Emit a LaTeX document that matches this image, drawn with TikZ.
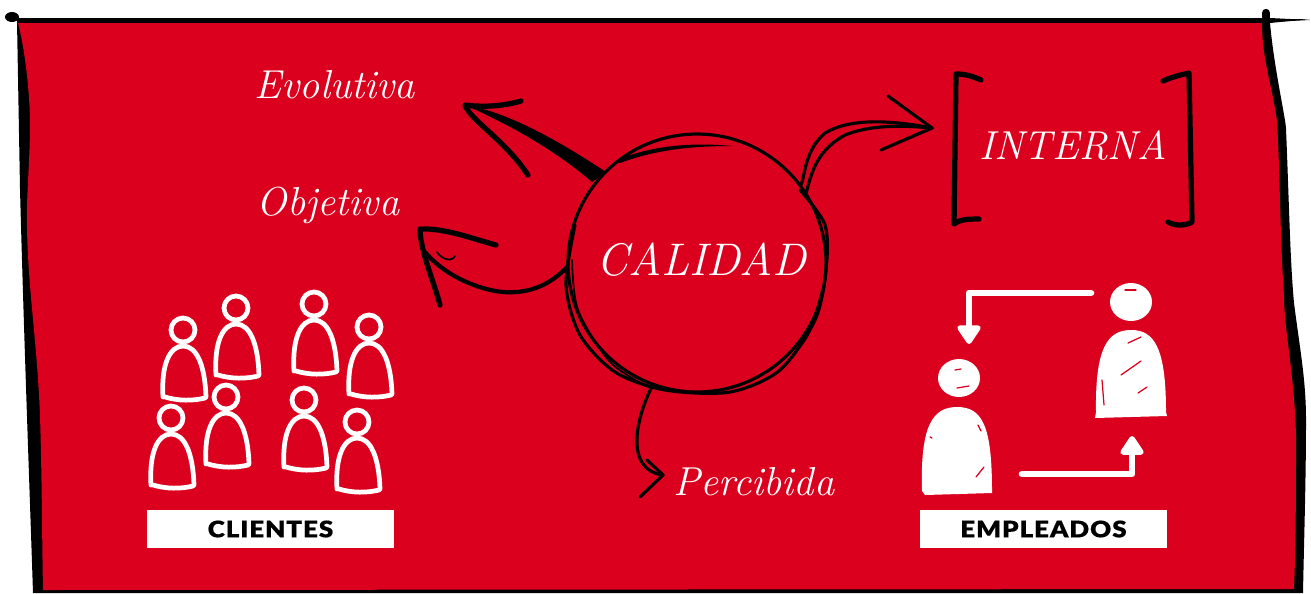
\documentclass[tikz,border=0pt]{standalone}
\usepackage{fontspec}
\usetikzlibrary{arrows.meta,positioning,calc}
\newfontfamily\boxfont{Lato Black}
\definecolor{qred}{RGB}{218,0,30}

\begin{document}
\begin{tikzpicture}[x=0.02cm,y=-0.02cm,
  handtext/.style={text=white,inner sep=0pt,font=\itshape\addfontfeature{LetterSpace=6,FakeBold=0.7}\fontsize{23}{23}\selectfont},
  capsbox/.style={fill=white,text=black,minimum width=4.94cm,minimum height=0.76cm,inner sep=0pt,font=\boxfont\addfontfeature{LetterSpace=4,FakeStretch=1.14,FakeBold=0.4}\fontsize{13}{14}\selectfont},
  sketch/.style={draw=black,line width=1.8pt,line cap=round,line join=round},
  heavy/.style={draw=black,line width=3pt,line cap=round,line join=round},
  fine/.style={draw=black,line width=1pt,line cap=round,line join=round},
  flow/.style={draw=white,line width=3.8pt,line cap=round,line join=round,-{Triangle[round,length=12pt,width=15pt]}},
  slit/.style={draw=qred,line width=0.7pt,line cap=round},
  person/.pic={
    \draw[white,line width=2.7pt,line join=round] (0,0) circle (12);
    \draw[white,line width=2.7pt,line cap=round] (-20,67) .. controls (-22,34) and (-13,16) .. (0,16) .. controls (14,16) and (22,36) .. (23,67);
    \draw[white,line width=2.7pt,line cap=round] (-18,67) .. controls (-5,71) and (10,71) .. (22,68);
  }]
  \useasboundingbox (0,0) rectangle (1311,593);
  % Frame
  \fill[black] (17,21) -- (1310,19) -- (1270,23) .. controls (1274,68) and (1286,120) .. (1286,129) .. controls (1289,200) and (1290,260) .. (1294,303) .. controls (1300,350) and (1306,380) .. (1306,420) .. controls (1306,480) and (1304,540) .. (1303,593) -- (33,593) .. controls (30,500) and (24,340) .. (20,189) -- cycle;
  \fill[black] (1310,20) -- (1270,18) -- (17,18) -- (17,22) -- (1270,22) -- cycle;
  \fill[qred] (18,23) .. controls (24,45) and (30,90) .. (30,125) .. controls (30,160) and (26,200) .. (27,227) .. controls (28,290) and (37,340) .. (40,416) .. controls (42,480) and (42,540) .. (43,590) -- (1294,589) .. controls (1296,540) and (1296,480) .. (1296,435) .. controls (1294,370) and (1284,330) .. (1284,295) .. controls (1280,240) and (1280,170) .. (1277,121) .. controls (1272,85) and (1262,60) .. (1262,23) -- cycle;
  \fill[black] (12,17) ellipse (7 and 5);
  \draw[black,line width=4.8pt,line cap=round] (1266,13) -- (1266,24);
  % Centre circle
  \node[circle,sketch,minimum size=5.16cm,inner sep=0pt] (calidad) at (697,263) {};
  \node[handtext,font=\itshape\addfontfeature{LetterSpace=6,FakeBold=0.7}\fontsize{26}{26}\selectfont] (calidadtxt) at (701,260) {CALIDAD};
  \draw[sketch] plot[smooth] coordinates {(575,225) (566,285) (580,335) (615,372) (665,390) (730,392) (780,370) (815,320) (826,270) (825,225) (800,190)};
  \draw[fine] plot[smooth] coordinates {(572,260) (578,310) (610,362) (650,388)};
  \draw[fine] plot[smooth] coordinates {(782,368) (808,335) (822,290)};
  \fill[black] (617,160) .. controls (650,146) and (690,142) .. (732,146) .. controls (690,146) and (655,150) .. (620,163) -- cycle;
  % Arrow to Evolutiva
  \coordinate (evotip) at (465,105);
  \coordinate (evobaseA) at (592,182);
  \coordinate (evobaseB) at (606,172);
  \fill[black] (evobaseA) .. controls (555,150) and (510,125) .. (evotip) .. controls (510,112) and (565,145) .. (evobaseB) -- cycle;
  \draw[heavy] (521,101) .. controls (500,107) and (480,107) .. (evotip) .. controls (470,120) and (505,140) .. (528,175);
  % Arrow to Objetiva
  \coordinate (objtip) at (420,229);
  \coordinate (objjoin) at (425,252);
  \draw[sketch,line width=2.4pt] (calidad.182) .. controls (545,290) and (520,295) .. (495,291) .. controls (465,285) and (440,270) .. (objjoin);
  \draw[heavy] (496,245) .. controls (470,238) and (445,228) .. (objtip) .. controls (420,250) and (435,285) .. (440,305);
  \draw[fine] (437,252) .. controls (442,260) and (452,262) .. (455,256);
  % Arrow to Interna
  \coordinate (inttip) at (932,128);
  \draw[sketch] (calidad.37) .. controls (805,175) and (805,150) .. (825,133) .. controls (850,118) and (890,120) .. (inttip);
  \draw[sketch] (calidad.33) .. controls (812,170) and (818,150) .. (845,135) .. controls (870,125) and (900,125) .. (inttip);
  \draw[sketch] (888,96) -- (inttip) -- (881,150);
  % Arrow to Percibida
  \coordinate (pertip) at (663,475);
  \draw[sketch] (calidad.-110) .. controls (635,420) and (625,470) .. (pertip);
  \draw[sketch] (647,460) -- (pertip) -- (640,497);
  % Labels
  \node[handtext] (evolutiva) at (335,85) {Evolutiva};
  \node[handtext] (objetiva) at (328,205) {Objetiva};
  \node[handtext] (percibida) at (754,482) {Percibida};
  \node[handtext,font=\itshape\addfontfeature{LetterSpace=3,FakeBold=0.7}\fontsize{23}{23}\selectfont] (interna) at (1073,145) {INTERNA};
  % Brackets
  \draw[heavy] (981,80) .. controls (972,76) and (965,74) .. (956,74) -- (954,224) .. controls (960,219) and (970,219) .. (979,219);
  \draw[heavy] (1163,81) .. controls (1172,77) and (1180,75) .. (1189,73) -- (1192,222) .. controls (1185,226) and (1175,226) .. (1168,222);
  % Clientes
  \pic at (183,330) {person};
  \pic at (236,308) {person};
  \pic at (314,304) {person};
  \pic at (369,327) {person};
  \pic at (171,418) {person};
  \pic at (226,397) {person};
  \pic at (304,400) {person};
  \pic at (357,422) {person};
  \node[capsbox] (clientes) at (270.5,529) {CLIENTES};
  % Empleados
  \node[capsbox] (empleados) at (1043.5,529) {EMPLEADOS};
  \fill[white] (959,378) ellipse (21 and 19);
  \fill[white] (922,491) .. controls (920,425) and (933,407) .. (957,407) .. controls (982,407) and (992,425) .. (992,491) -- (992,493) -- (925,495) -- cycle;
  \fill[white] (1131,302) ellipse (21 and 19);
  \fill[white] (1096,412) .. controls (1095,347) and (1108,330) .. (1131,330) .. controls (1154,330) and (1166,347) .. (1166,412) -- (1167,416) -- (1095,418) -- cycle;
  % Scratches
  \draw[slit] (1128,343) -- (1141,337);
  \draw[slit] (1121,375) -- (1141,361);
  \draw[slit] (1138,393) -- (1147,387);
  \draw[slit] (1104,405) -- (1102,380);
  \draw[slit] (976,477) -- (984,467);
  \draw[slit] (978,425) -- (981,431);
  \draw[slit] (930,437) -- (932,438);
  \draw[slit] (955,370) -- (961,369);
  \draw[slit] (957,388) -- (969,386);
  \draw[slit] (1125,290) -- (1136,290);
  % Arrows between employees
  \coordinate (swapA) at (1091,293);
  \coordinate (swapB) at (969,344);
  \coordinate (swapC) at (1022,474);
  \coordinate (swapD) at (1132,436);
  \draw[flow] (swapA) -| (swapB);
  \draw[flow] (swapC) -| (swapD);
\end{tikzpicture}
\end{document}
